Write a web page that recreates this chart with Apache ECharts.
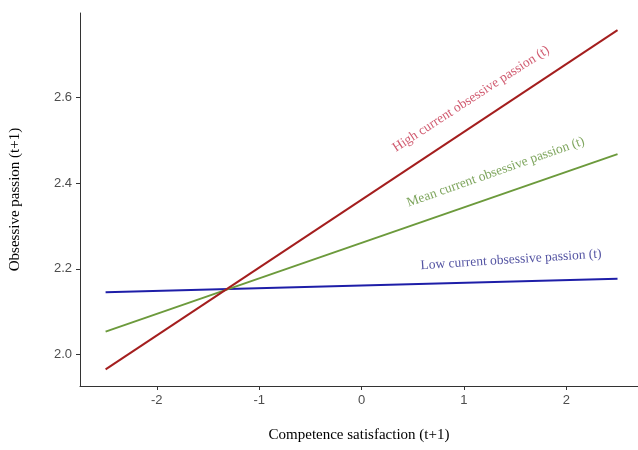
<!DOCTYPE html>
<html>
<head>
<meta charset="utf-8">
<script src="https://cdn.jsdelivr.net/npm/echarts@6/dist/echarts.min.js"></script>
<style>
  html, body { margin: 0; padding: 0; background: #fff; }
  #chart { width: 638px; height: 450px; }
</style>
</head>
<body>
<div id="chart"></div>
<script>
// x values of the simple slopes (competence satisfaction, centred)
var xValues = [-2.5, 2.5];
// predicted obsessive passion (t+1) at each x
var highValues = [1.965, 2.758];
var meanValues = [2.053, 2.468];
var lowValues = [2.145, 2.177];

var xTicks = [-2, -1, 0, 1, 2];
var yTicks = [2.0, 2.2, 2.4, 2.6];

// line labels: [x, y, text, angle]
var lineLabels = [
    [1.07, 2.597, 'High current obsessive passion (t)', 33],
    [1.31, 2.426, 'Mean current obsessive passion (t)', 19.5],
    [1.46, 2.221, 'Low current obsessive passion (t)', 3.7]
];
var lineColors = ['#a41e1e', '#6c9a3c', '#1e1ea8'];
var labelColors = ['#c4314b', '#5e8f34', '#2b2b8c'];

function pairs(ys) {
    return xValues.map(function (x, i) { return [x, ys[i]]; });
}

var myChart = echarts.init(document.getElementById('chart'));

var option = {
    animation: false,
    grid: { left: 78, right: 0, top: 13, bottom: 64 },
    xAxis: {
        type: 'value',
        min: -2.75,
        max: 2.7,
        name: 'Competence satisfaction (t+1)',
        nameLocation: 'middle',
        nameGap: 42,
        nameTextStyle: { fontFamily: 'Liberation Serif', fontSize: 15, color: '#000' },
        splitLine: { show: false },
        axisLine: { onZero: false, lineStyle: { color: '#333', width: 1 } },
        axisTick: { show: true, length: 4, customValues: xTicks, lineStyle: { color: '#333' } },
        axisLabel: {
            customValues: xTicks,
            fontFamily: 'Liberation Sans', fontSize: 13, color: '#4d4d4d', margin: 8
        }
    },
    yAxis: {
        type: 'value',
        min: 1.926,
        max: 2.798,
        name: 'Obsessive passion (t+1)',
        nameLocation: 'middle',
        nameGap: 57,
        nameTextStyle: { fontFamily: 'Liberation Serif', fontSize: 15, color: '#000' },
        splitLine: { show: false },
        axisLine: { show: true, onZero: false, lineStyle: { color: '#333', width: 1 } },
        axisTick: { show: true, length: 4, customValues: yTicks, lineStyle: { color: '#333' } },
        axisLabel: {
            customValues: yTicks,
            fontFamily: 'Liberation Sans', fontSize: 13, color: '#4d4d4d', margin: 8,
            formatter: function (v) { return v.toFixed(1); }
        }
    },
    series: [
        { type: 'line', data: pairs(lowValues), symbol: 'none', lineStyle: { color: lineColors[2], width: 2 } },
        { type: 'line', data: pairs(meanValues), symbol: 'none', lineStyle: { color: lineColors[1], width: 2 } },
        { type: 'line', data: pairs(highValues), symbol: 'none', lineStyle: { color: lineColors[0], width: 2 } },
        {
            type: 'scatter',
            symbolSize: 0,
            silent: true,
            data: lineLabels.map(function (d, i) {
                return {
                    value: [d[0], d[1]],
                    label: {
                        show: true,
                        position: 'inside',
                        formatter: d[2],
                        rotate: d[3],
                        color: labelColors[i],
                        fontFamily: 'Liberation Serif',
                        fontSize: 13.5
                    }
                };
            })
        }
    ]
};
myChart.setOption(option);
</script>
</body>
</html>
